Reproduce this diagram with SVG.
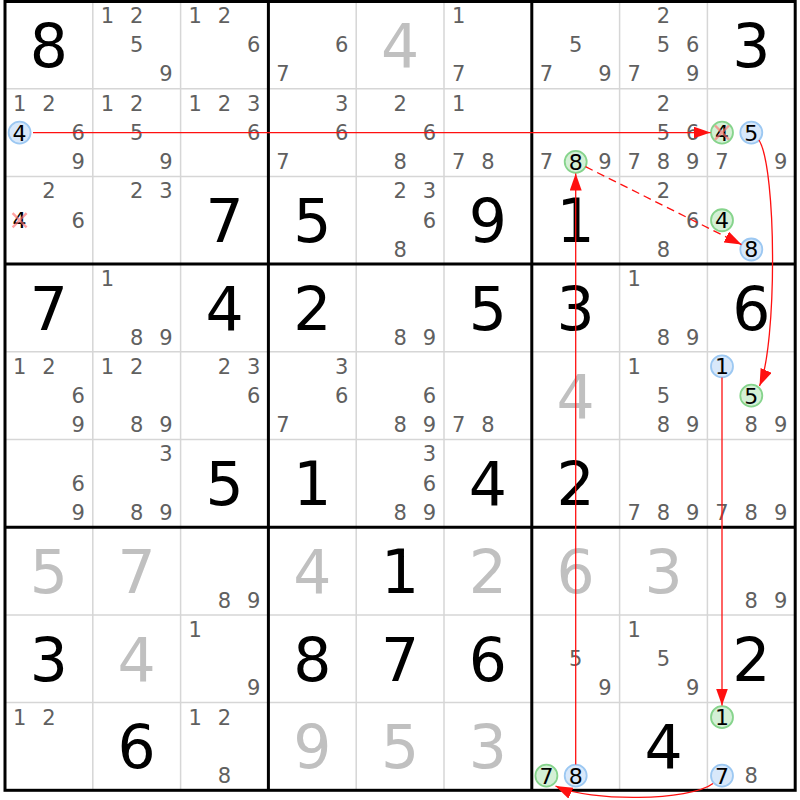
<svg xmlns="http://www.w3.org/2000/svg" width="800" height="800" viewBox="0 0 800 800">
<style>
text{font-family:"DejaVu Sans","Liberation Sans",sans-serif;text-anchor:middle}
.g{font-size:60px;fill:#000}
.s{font-size:60px;fill:#c0c0c0}
.c{font-size:21px;fill:#606060}
.h{font-size:22px;fill:#000}
.thin{stroke:#d6d6d6;stroke-width:1.5}
.thick{stroke:#000;stroke-width:3}
.blue{fill:#d8e8fa;stroke:#9cc8f2;stroke-width:1.8}
.green{fill:#d4f0d6;stroke:#86d48c;stroke-width:1.8}
.x{stroke:#ff7070;stroke-width:2.4;opacity:0.65}
.lk{fill:none;stroke:#ff1010;stroke-width:1.3}
</style>
<defs>
<marker id="ah" markerUnits="userSpaceOnUse" markerWidth="18" markerHeight="12" refX="17" refY="6" orient="auto">
<path d="M0,0 L17,6 L0,12 z" fill="#ff1010"/>
</marker>
</defs>
<rect x="0" y="0" width="800" height="800" fill="#fff"/>
<g id="grid">
<path class="thin" d="M92.8,1V790.3M180.6,1V790.3M356.2,1V790.3M444,1V790.3M619.6,1V790.3M707.4,1V790.3M5,88.7H795.2M5,176.4H795.2M5,351.8H795.2M5,439.5H795.2M5,614.9H795.2M5,702.6H795.2"/>
<path class="thick" d="M268.4,1V790.3M531.8,1V790.3M5,264.1H795.2M5,527.2H795.2"/>
<rect class="thick" x="5" y="1.5" width="790.2" height="788.8" fill="none"/>
</g>
<g id="r0c0"><text class="g" x="48.9" y="66.8">8</text></g>
<g id="r0c1"><text class="c" x="107.4" y="22.9">1</text><text class="c" x="136.7" y="22.9">2</text><text class="c" x="136.7" y="52.2">5</text><text class="c" x="166" y="81.4">9</text></g>
<g id="r0c2"><text class="c" x="195.2" y="22.9">1</text><text class="c" x="224.5" y="22.9">2</text><text class="c" x="253.8" y="52.2">6</text></g>
<g id="r0c3"><text class="c" x="341.6" y="52.2">6</text><text class="c" x="283" y="81.4">7</text></g>
<g id="r0c4"><text class="s" x="400.1" y="66.8">4</text></g>
<g id="r0c5"><text class="c" x="458.6" y="22.9">1</text><text class="c" x="458.6" y="81.4">7</text></g>
<g id="r0c6"><text class="c" x="575.7" y="52.2">5</text><text class="c" x="546.4" y="81.4">7</text><text class="c" x="605" y="81.4">9</text></g>
<g id="r0c7"><text class="c" x="663.5" y="22.9">2</text><text class="c" x="663.5" y="52.2">5</text><text class="c" x="692.8" y="52.2">6</text><text class="c" x="634.2" y="81.4">7</text><text class="c" x="692.8" y="81.4">9</text></g>
<g id="r0c8"><text class="g" x="751.3" y="66.8">3</text></g>

<g id="r1c0"><text class="c" x="19.6" y="110.6">1</text><text class="c" x="48.9" y="110.6">2</text><circle class="blue" cx="19.6" cy="132.55" r="11"/><text class="h" x="19.6" y="140.5">4</text><text class="c" x="78.2" y="139.9">6</text><text class="c" x="78.2" y="169.1">9</text></g>
<g id="r1c1"><text class="c" x="107.4" y="110.6">1</text><text class="c" x="136.7" y="110.6">2</text><text class="c" x="136.7" y="139.9">5</text><text class="c" x="166" y="169.1">9</text></g>
<g id="r1c2"><text class="c" x="195.2" y="110.6">1</text><text class="c" x="224.5" y="110.6">2</text><text class="c" x="253.8" y="110.6">3</text><text class="c" x="253.8" y="139.9">6</text></g>
<g id="r1c3"><text class="c" x="341.6" y="110.6">3</text><text class="c" x="341.6" y="139.9">6</text><text class="c" x="283" y="169.1">7</text></g>
<g id="r1c4"><text class="c" x="400.1" y="110.6">2</text><text class="c" x="429.4" y="139.9">6</text><text class="c" x="400.1" y="169.1">8</text></g>
<g id="r1c5"><text class="c" x="458.6" y="110.6">1</text><text class="c" x="458.6" y="169.1">7</text><text class="c" x="487.9" y="169.1">8</text></g>
<g id="r1c6"><text class="c" x="546.4" y="169.1">7</text><circle class="green" cx="575.7" cy="161.8" r="11"/><text class="h" x="575.7" y="169.8">8</text><text class="c" x="605" y="169.1">9</text></g>
<g id="r1c7"><text class="c" x="663.5" y="110.6">2</text><text class="c" x="663.5" y="139.9">5</text><text class="c" x="692.8" y="139.9">6</text><text class="c" x="634.2" y="169.1">7</text><text class="c" x="663.5" y="169.1">8</text><text class="c" x="692.8" y="169.1">9</text></g>
<g id="r1c8"><circle class="green" cx="722" cy="132.55" r="11"/><text class="h" x="722" y="140.5">4</text><path class="x" d="M715,125.5L729,139.6M729,125.5L715,139.6"/><circle class="blue" cx="751.3" cy="132.55" r="11"/><text class="h" x="751.3" y="140.5">5</text><text class="c" x="722" y="169.1">7</text><text class="c" x="780.6" y="169.1">9</text></g>

<g id="r2c0"><text class="c" x="48.9" y="198.3">2</text><text class="h" x="19.6" y="228.2">4</text><path class="x" d="M12.6,213.2L26.6,227.3M26.6,213.2L12.6,227.3"/><text class="c" x="78.2" y="227.6">6</text></g>
<g id="r2c1"><text class="c" x="136.7" y="198.3">2</text><text class="c" x="166" y="198.3">3</text></g>
<g id="r2c2"><text class="g" x="224.5" y="242.2">7</text></g>
<g id="r2c3"><text class="g" x="312.3" y="242.2">5</text></g>
<g id="r2c4"><text class="c" x="400.1" y="198.3">2</text><text class="c" x="429.4" y="198.3">3</text><text class="c" x="429.4" y="227.6">6</text><text class="c" x="400.1" y="256.8">8</text></g>
<g id="r2c5"><text class="g" x="487.9" y="242.2">9</text></g>
<g id="r2c6"><text class="g" x="575.7" y="242.2">1</text></g>
<g id="r2c7"><text class="c" x="663.5" y="198.3">2</text><text class="c" x="692.8" y="227.6">6</text><text class="c" x="663.5" y="256.8">8</text></g>
<g id="r2c8"><circle class="green" cx="722" cy="220.25" r="11"/><text class="h" x="722" y="228.2">4</text><circle class="blue" cx="751.3" cy="249.5" r="11"/><text class="h" x="751.3" y="257.4">8</text></g>

<g id="r3c0"><text class="g" x="48.9" y="329.9">7</text></g>
<g id="r3c1"><text class="c" x="107.4" y="286">1</text><text class="c" x="136.7" y="344.5">8</text><text class="c" x="166" y="344.5">9</text></g>
<g id="r3c2"><text class="g" x="224.5" y="329.9">4</text></g>
<g id="r3c3"><text class="g" x="312.3" y="329.9">2</text></g>
<g id="r3c4"><text class="c" x="400.1" y="344.5">8</text><text class="c" x="429.4" y="344.5">9</text></g>
<g id="r3c5"><text class="g" x="487.9" y="329.9">5</text></g>
<g id="r3c6"><text class="g" x="575.7" y="329.9">3</text></g>
<g id="r3c7"><text class="c" x="634.2" y="286">1</text><text class="c" x="663.5" y="344.5">8</text><text class="c" x="692.8" y="344.5">9</text></g>
<g id="r3c8"><text class="g" x="751.3" y="329.9">6</text></g>

<g id="r4c0"><text class="c" x="19.6" y="373.7">1</text><text class="c" x="48.9" y="373.7">2</text><text class="c" x="78.2" y="403">6</text><text class="c" x="78.2" y="432.2">9</text></g>
<g id="r4c1"><text class="c" x="107.4" y="373.7">1</text><text class="c" x="136.7" y="373.7">2</text><text class="c" x="136.7" y="432.2">8</text><text class="c" x="166" y="432.2">9</text></g>
<g id="r4c2"><text class="c" x="224.5" y="373.7">2</text><text class="c" x="253.8" y="373.7">3</text><text class="c" x="253.8" y="403">6</text></g>
<g id="r4c3"><text class="c" x="341.6" y="373.7">3</text><text class="c" x="341.6" y="403">6</text><text class="c" x="283" y="432.2">7</text></g>
<g id="r4c4"><text class="c" x="429.4" y="403">6</text><text class="c" x="400.1" y="432.2">8</text><text class="c" x="429.4" y="432.2">9</text></g>
<g id="r4c5"><text class="c" x="458.6" y="432.2">7</text><text class="c" x="487.9" y="432.2">8</text></g>
<g id="r4c6"><text class="s" x="575.7" y="417.6">4</text></g>
<g id="r4c7"><text class="c" x="634.2" y="373.7">1</text><text class="c" x="663.5" y="403">5</text><text class="c" x="663.5" y="432.2">8</text><text class="c" x="692.8" y="432.2">9</text></g>
<g id="r4c8"><circle class="blue" cx="722" cy="366.4" r="11"/><text class="h" x="722" y="374.3">1</text><circle class="green" cx="751.3" cy="395.65" r="11"/><text class="h" x="751.3" y="403.6">5</text><text class="c" x="751.3" y="432.2">8</text><text class="c" x="780.6" y="432.2">9</text></g>

<g id="r5c0"><text class="c" x="78.2" y="490.7">6</text><text class="c" x="78.2" y="519.9">9</text></g>
<g id="r5c1"><text class="c" x="166" y="461.4">3</text><text class="c" x="136.7" y="519.9">8</text><text class="c" x="166" y="519.9">9</text></g>
<g id="r5c2"><text class="g" x="224.5" y="505.3">5</text></g>
<g id="r5c3"><text class="g" x="312.3" y="505.3">1</text></g>
<g id="r5c4"><text class="c" x="429.4" y="461.4">3</text><text class="c" x="429.4" y="490.7">6</text><text class="c" x="400.1" y="519.9">8</text><text class="c" x="429.4" y="519.9">9</text></g>
<g id="r5c5"><text class="g" x="487.9" y="505.3">4</text></g>
<g id="r5c6"><text class="g" x="575.7" y="505.3">2</text></g>
<g id="r5c7"><text class="c" x="634.2" y="519.9">7</text><text class="c" x="663.5" y="519.9">8</text><text class="c" x="692.8" y="519.9">9</text></g>
<g id="r5c8"><text class="c" x="722" y="519.9">7</text><text class="c" x="751.3" y="519.9">8</text><text class="c" x="780.6" y="519.9">9</text></g>

<g id="r6c0"><text class="s" x="48.9" y="593">5</text></g>
<g id="r6c1"><text class="s" x="136.7" y="593">7</text></g>
<g id="r6c2"><text class="c" x="224.5" y="607.6">8</text><text class="c" x="253.8" y="607.6">9</text></g>
<g id="r6c3"><text class="s" x="312.3" y="593">4</text></g>
<g id="r6c4"><text class="g" x="400.1" y="593">1</text></g>
<g id="r6c5"><text class="s" x="487.9" y="593">2</text></g>
<g id="r6c6"><text class="s" x="575.7" y="593">6</text></g>
<g id="r6c7"><text class="s" x="663.5" y="593">3</text></g>
<g id="r6c8"><text class="c" x="751.3" y="607.6">8</text><text class="c" x="780.6" y="607.6">9</text></g>

<g id="r7c0"><text class="g" x="48.9" y="680.7">3</text></g>
<g id="r7c1"><text class="s" x="136.7" y="680.7">4</text></g>
<g id="r7c2"><text class="c" x="195.2" y="636.8">1</text><text class="c" x="253.8" y="695.3">9</text></g>
<g id="r7c3"><text class="g" x="312.3" y="680.7">8</text></g>
<g id="r7c4"><text class="g" x="400.1" y="680.7">7</text></g>
<g id="r7c5"><text class="g" x="487.9" y="680.7">6</text></g>
<g id="r7c6"><text class="c" x="575.7" y="666.1">5</text><text class="c" x="605" y="695.3">9</text></g>
<g id="r7c7"><text class="c" x="634.2" y="636.8">1</text><text class="c" x="663.5" y="666.1">5</text><text class="c" x="692.8" y="695.3">9</text></g>
<g id="r7c8"><text class="g" x="751.3" y="680.7">2</text></g>

<g id="r8c0"><text class="c" x="19.6" y="724.5">1</text><text class="c" x="48.9" y="724.5">2</text></g>
<g id="r8c1"><text class="g" x="136.7" y="768.4">6</text></g>
<g id="r8c2"><text class="c" x="195.2" y="724.5">1</text><text class="c" x="224.5" y="724.5">2</text><text class="c" x="224.5" y="783">8</text></g>
<g id="r8c3"><text class="s" x="312.3" y="768.4">9</text></g>
<g id="r8c4"><text class="s" x="400.1" y="768.4">5</text></g>
<g id="r8c5"><text class="s" x="487.9" y="768.4">3</text></g>
<g id="r8c6"><circle class="green" cx="546.4" cy="775.7" r="11"/><text class="h" x="546.4" y="783.6">7</text><circle class="blue" cx="575.7" cy="775.7" r="11"/><text class="h" x="575.7" y="783.6">8</text></g>
<g id="r8c7"><text class="g" x="663.5" y="768.4">4</text></g>
<g id="r8c8"><circle class="green" cx="722" cy="717.2" r="11"/><text class="h" x="722" y="725.1">1</text><circle class="blue" cx="722" cy="775.7" r="11"/><text class="h" x="722" y="783.6">7</text><text class="c" x="751.3" y="783">8</text></g>

<g id="connectors">
<path class="lk" d="M33,132.55 L710.5,132.55" marker-end="url(#ah)"/>
<path class="lk" d="M759,140 C777,170 777,345 759.5,386" marker-end="url(#ah)"/>
<path class="lk" d="M722,377.5 L722,705.5" marker-end="url(#ah)"/>
<path class="lk" d="M713,783.5 C690,801 590,802 555.5,786" marker-end="url(#ah)"/>
<path class="lk" d="M575.7,764.5 L575.7,173.5" marker-end="url(#ah)"/>
<path class="lk" d="M585.5,166.7 L741.5,244.6" stroke-dasharray="8 5" marker-end="url(#ah)"/>
</g>
</svg>
